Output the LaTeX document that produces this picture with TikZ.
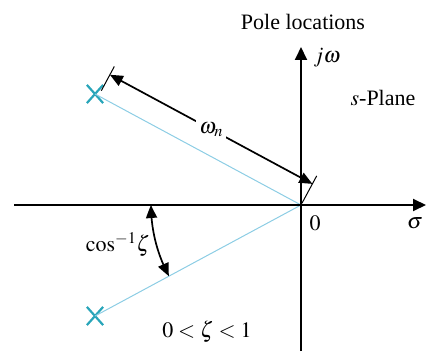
\documentclass[tikz,border=0pt]{standalone}
\usepackage{mathptmx}
\usepackage{fontspec}
\setmainfont{Liberation Serif}
\usetikzlibrary{arrows.meta,bending,calc,shapes.misc}
\definecolor{poleteal}{RGB}{40,165,185}
\definecolor{lineblue}{RGB}{140,205,228}
\begin{document}
\begin{tikzpicture}[x=1pt,y=1pt,
  every node/.style={font=\fontsize{22}{26}\selectfont},
  axis/.style={line width=1.9pt,-{Triangle[length=13pt,width=12pt]}},
  blueline/.style={draw=lineblue,line width=1pt},
  pole/.style={draw=poleteal,cross out,line width=2.2pt,minimum width=14pt,minimum height=16pt,inner sep=0pt},
  tickline/.style={line width=1pt},
  dimline/.style={line width=1.7pt,{Triangle[length=13pt,width=11pt]}-{Triangle[length=13pt,width=11pt]}},
  arcline/.style={line width=1.7pt,{Triangle[length=13pt,width=11pt,bend]}-{Triangle[length=13pt,width=11pt,bend]}}]
\useasboundingbox (0,0) rectangle (427,351);
\coordinate (O) at (301,146);
\coordinate (XL) at (14,146);
\coordinate (XR) at (426,146);
\coordinate (YB) at (301,0);
\coordinate (YT) at (301,304);
% blue lines and poles
\node[pole] (p1) at (95,257) {};
\node[pole] (p2) at (95,35) {};
\draw[blueline] (p1.center) -- (O);
\draw[blueline] (p2.center) -- (O);
% axes
\draw[axis] (XL) -- (XR);
\draw[axis] (YB) -- (YT);
% dimension omega_n
\coordinate (t1a) at ($(p1.center)!6pt!90:(O)$);
\coordinate (t1b) at ($(p1.center)!34pt!90:(O)$);
\coordinate (t2a) at ($(O)!2pt!-90:(p1.center)$);
\coordinate (t2b) at ($(O)!33pt!-90:(p1.center)$);
\draw[tickline] ($(t1a)!4pt!(O)$) -- ($(t1b)!4pt!(O)$);
\draw[tickline] (t2a) -- (t2b);
\coordinate (d1) at ($(p1.center)!24pt!90:(O)$);
\coordinate (d2) at ($(O)!24pt!-90:(p1.center)$);
\draw[dimline] ($(d1)!4pt!(d2)$) -- node[fill=white,inner sep=3pt] (wn) {$\omega_n$} (d2);
% angle arc
\draw[arcline] ($(O)+(180:150)$) arc[start angle=180,end angle=208.3,radius=150pt];
% labels
\node (title) at (303,329) {Pole locations};
\node[anchor=west] (jw) at (310,293) {$j\omega$};
\node (splane) at (383,253) {$s$-Plane};
\node (zero) at (315,128) {$0$};
\node (sigma) at (415,128) {$\sigma$};
\node (cosl) at (118,106) {$\cos^{-1}\!\zeta$};
\node (range) at (207,19) {$0<\zeta<1$};
\end{tikzpicture}
\end{document}
